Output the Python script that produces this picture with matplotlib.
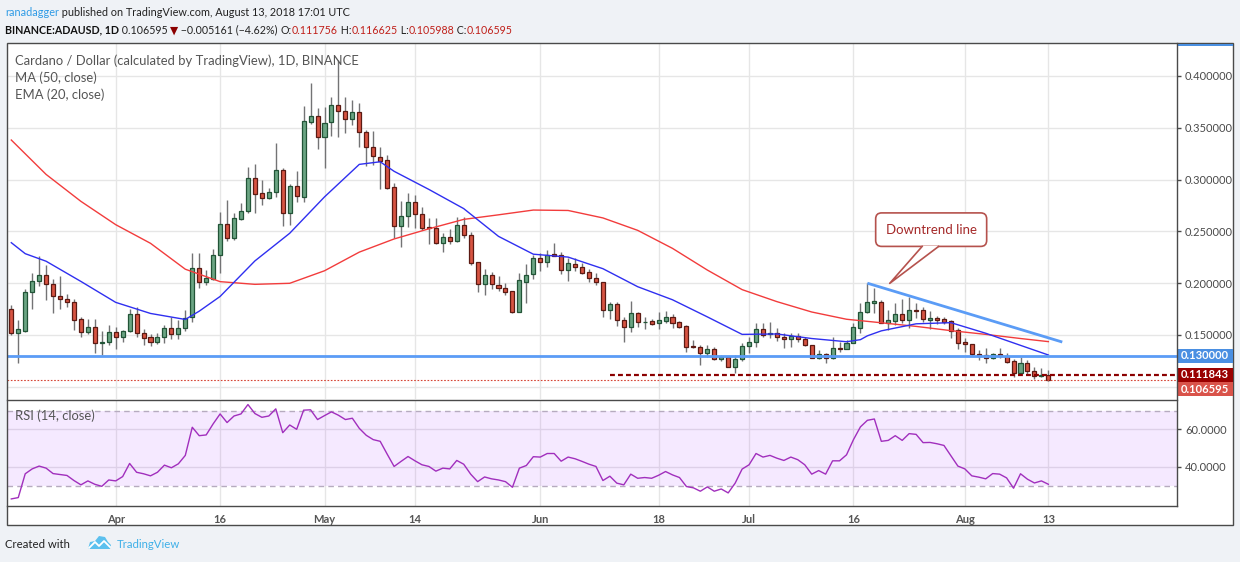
import numpy as np
import pandas as pd
import matplotlib
matplotlib.use("Agg")
import matplotlib.pyplot as plt
from matplotlib.patches import FancyBboxPatch, Polygon, Rectangle

W, H = 1240, 562

# ---------------- data ----------------
start_date = "2018-03-17"

opens = [0.1748, 0.1516, 0.1542, 0.1912, 0.2018, 0.2076, 0.1989, 0.1873, 0.1844, 0.1815,
         0.1651, 0.1526, 0.1574, 0.1426, 0.1428, 0.1526, 0.1477, 0.1539, 0.1699, 0.1522,
         0.1477, 0.1432, 0.1477, 0.1564, 0.1510, 0.1564, 0.1670, 0.2150, 0.2015, 0.2044,
         0.2269, 0.2571, 0.2433, 0.2617, 0.2700, 0.3015, 0.2867, 0.2819, 0.2877, 0.3093,
         0.2681, 0.2938, 0.2835, 0.3560, 0.3614, 0.3408, 0.3553, 0.3717, 0.3665, 0.3582,
         0.3649, 0.3456, 0.3311, 0.3215, 0.3186, 0.2925, 0.2555, 0.2652, 0.2780, 0.2664,
         0.2542, 0.2529, 0.2391, 0.2442, 0.2410, 0.2558, 0.2465, 0.2201, 0.1989, 0.2079,
         0.1982, 0.1950, 0.1925, 0.1725, 0.2014, 0.2085, 0.2240, 0.2208, 0.2278, 0.2269,
         0.2127, 0.2185, 0.2153, 0.2108, 0.2047, 0.2015, 0.1738, 0.1799, 0.1641, 0.1580,
         0.1709, 0.1625, 0.1632, 0.1613, 0.1638, 0.1670, 0.1622, 0.1584, 0.1394, 0.1381,
         0.1323, 0.1365, 0.1265, 0.1285, 0.1191, 0.1265, 0.1391, 0.1429, 0.1555, 0.1510,
         0.1516, 0.1481, 0.1458, 0.1490, 0.1458, 0.1400, 0.1281, 0.1320, 0.1281, 0.1378,
         0.1368, 0.1426, 0.1568, 0.1719, 0.1812, 0.1822, 0.1619, 0.1638, 0.1703, 0.1648,
         0.1741, 0.1741, 0.1648, 0.1661, 0.1651, 0.1632, 0.1545, 0.1433, 0.1413, 0.1313,
         0.1304, 0.1275, 0.1313, 0.1301, 0.1249, 0.1137, 0.1227, 0.1156, 0.1105, 0.111756]
highs = [0.1790, 0.1645, 0.1940, 0.2100, 0.2260, 0.2180, 0.2040, 0.2070, 0.1900, 0.1850,
         0.1670, 0.1654, 0.1654, 0.1540, 0.1600, 0.1580, 0.1550, 0.1748, 0.1770, 0.1560,
         0.1510, 0.1520, 0.1600, 0.1670, 0.1645, 0.1740, 0.2290, 0.2295, 0.2130, 0.2330,
         0.2684, 0.2803, 0.2674, 0.2770, 0.3120, 0.3150, 0.2996, 0.2922, 0.3350, 0.3109,
         0.2954, 0.3083, 0.3714, 0.3936, 0.3688, 0.3698, 0.3800, 0.4155, 0.3800, 0.3770,
         0.3736, 0.3479, 0.3470, 0.3318, 0.3237, 0.2964, 0.2793, 0.2867, 0.2851, 0.2738,
         0.2626, 0.2626, 0.2481, 0.2520, 0.2642, 0.2642, 0.2491, 0.2201, 0.2137, 0.2105,
         0.2069, 0.1998, 0.1925, 0.2095, 0.2185, 0.2272, 0.2288, 0.2320, 0.2385, 0.2304,
         0.2240, 0.2240, 0.2198, 0.2134, 0.2102, 0.2015, 0.1822, 0.1822, 0.1670, 0.1831,
         0.1725, 0.1677, 0.1651, 0.1725, 0.1735, 0.1703, 0.1638, 0.1596, 0.1452, 0.1404,
         0.1404, 0.1381, 0.1307, 0.1297, 0.1307, 0.1420, 0.1478, 0.1619, 0.1619, 0.1629,
         0.1564, 0.1516, 0.1516, 0.1516, 0.1478, 0.1404, 0.1355, 0.1329, 0.1478, 0.1436,
         0.1452, 0.1613, 0.1806, 0.2005, 0.1951, 0.1838, 0.1741, 0.1806, 0.1844, 0.1870,
         0.1806, 0.1774, 0.1732, 0.1684, 0.1671, 0.1645, 0.1565, 0.1468, 0.1413, 0.1355,
         0.1371, 0.1323, 0.1371, 0.1323, 0.1265, 0.1285, 0.1259, 0.1194, 0.1178, 0.116625]
lows = [0.1500, 0.1226, 0.1530, 0.1750, 0.1970, 0.1840, 0.1710, 0.1750, 0.1770, 0.1550,
        0.1480, 0.1510, 0.1330, 0.1307, 0.1400, 0.1360, 0.1436, 0.1530, 0.1480, 0.1400,
        0.1394, 0.1410, 0.1420, 0.1460, 0.1460, 0.1540, 0.1625, 0.1950, 0.1980, 0.2030,
        0.2095, 0.2410, 0.2417, 0.2610, 0.2674, 0.2674, 0.2755, 0.2810, 0.2835, 0.2555,
        0.2560, 0.2787, 0.2780, 0.3540, 0.3292, 0.3115, 0.3420, 0.3414, 0.3450, 0.3527,
        0.3318, 0.3135, 0.3140, 0.2906, 0.2906, 0.2433, 0.2352, 0.2539, 0.2529, 0.2513,
        0.2375, 0.2375, 0.2304, 0.2375, 0.2394, 0.2433, 0.2175, 0.1912, 0.1886, 0.1941,
        0.1928, 0.1886, 0.1709, 0.1719, 0.1812, 0.2040, 0.2121, 0.2153, 0.2262, 0.2089,
        0.2024, 0.2121, 0.2086, 0.2015, 0.1983, 0.1677, 0.1651, 0.1587, 0.1436, 0.1532,
        0.1574, 0.1555, 0.1597, 0.1555, 0.1619, 0.1571, 0.1564, 0.1339, 0.1371, 0.1210,
        0.1285, 0.1259, 0.1252, 0.1191, 0.1136, 0.1252, 0.1323, 0.1381, 0.1478, 0.1468,
        0.1445, 0.1371, 0.1381, 0.1436, 0.1394, 0.1275, 0.1265, 0.1233, 0.1265, 0.1339,
        0.1362, 0.1420, 0.1516, 0.1709, 0.1716, 0.1613, 0.1548, 0.1597, 0.1613, 0.1565,
        0.1661, 0.1629, 0.1558, 0.1606, 0.1606, 0.1474, 0.1362, 0.1339, 0.1297, 0.1259,
        0.1227, 0.1265, 0.1275, 0.1227, 0.1091, 0.1130, 0.1124, 0.1072, 0.1091, 0.105988]
closes = [0.1516, 0.1555, 0.1915, 0.2018, 0.2076, 0.1989, 0.1873, 0.1844, 0.1815, 0.1645,
          0.1526, 0.1574, 0.1426, 0.1428, 0.1526, 0.1477, 0.1539, 0.1699, 0.1522, 0.1468,
          0.1429, 0.1477, 0.1564, 0.1510, 0.1564, 0.1667, 0.2150, 0.2015, 0.2047, 0.2269,
          0.2571, 0.2433, 0.2633, 0.2694, 0.3015, 0.2861, 0.2819, 0.2877, 0.3093, 0.2681,
          0.2938, 0.2845, 0.3566, 0.3614, 0.3408, 0.3543, 0.3717, 0.3665, 0.3582, 0.3649,
          0.3456, 0.3311, 0.3225, 0.3182, 0.2915, 0.2555, 0.2645, 0.2780, 0.2664, 0.2536,
          0.2529, 0.2391, 0.2442, 0.2410, 0.2558, 0.2462, 0.2198, 0.1989, 0.2079, 0.1989,
          0.1950, 0.1918, 0.1725, 0.2027, 0.2079, 0.2240, 0.2208, 0.2272, 0.2266, 0.2127,
          0.2192, 0.2153, 0.2102, 0.2047, 0.2015, 0.1738, 0.1799, 0.1641, 0.1580, 0.1709,
          0.1622, 0.1627, 0.1603, 0.1645, 0.1677, 0.1619, 0.1580, 0.1387, 0.1381, 0.1323,
          0.1365, 0.1265, 0.1288, 0.1191, 0.1265, 0.1391, 0.1429, 0.1555, 0.1497, 0.1519,
          0.1478, 0.1458, 0.1490, 0.1458, 0.1400, 0.1281, 0.1320, 0.1281, 0.1378, 0.1368,
          0.1426, 0.1574, 0.1719, 0.1815, 0.1825, 0.1619, 0.1642, 0.1703, 0.1648, 0.1741,
          0.1735, 0.1651, 0.1661, 0.1648, 0.1629, 0.1542, 0.1420, 0.1410, 0.1313, 0.1301,
          0.1275, 0.1313, 0.1301, 0.1243, 0.1137, 0.1227, 0.1156, 0.1105, 0.111756, 0.106595]

# moving averages sampled at candle numbers (1 = first candle)
ma50_idx = [1, 6, 11, 16, 21, 26, 31, 36, 41, 46, 51, 56, 61, 66, 71, 76, 81, 86,
            91, 96, 101, 106, 111, 116, 121, 126, 131, 136, 141, 146, 150]
ma50_vals = [0.3382, 0.3050, 0.2790, 0.2565, 0.2385, 0.2135, 0.2015, 0.1989, 0.1999,
             0.2120, 0.2300, 0.2427, 0.2525, 0.2616, 0.2660, 0.2706, 0.2702, 0.2630,
             0.2510, 0.2336, 0.2127, 0.1938, 0.1822, 0.1722, 0.1652, 0.1618, 0.1583,
             0.1542, 0.1506, 0.1466, 0.1436]
ema20_idx = [1, 3, 6, 11, 16, 21, 26, 28, 31, 36, 41, 46, 51, 54, 56, 61, 66, 71, 76,
             81, 86, 91, 96, 101, 106, 111, 116, 121, 123, 124, 126, 131, 136, 141,
             146, 150]
ema20_vals = [0.2391, 0.2285, 0.2212, 0.2017, 0.1815, 0.1708, 0.1650, 0.1730, 0.1872,
              0.2215, 0.2482, 0.2833, 0.3147, 0.3172, 0.3080, 0.2905, 0.2720, 0.2452,
              0.2280, 0.2252, 0.2140, 0.1966, 0.1840, 0.1675, 0.1506, 0.1510, 0.1466,
              0.1435, 0.1455, 0.1492, 0.1540, 0.1608, 0.1619, 0.1517, 0.1400, 0.1307]

rsi_vals = [22.9, 23.6, 36.3, 38.9, 40.4, 39.3, 36.4, 35.9, 35.4, 32.7,
            30.4, 32.5, 30.7, 29.6, 33.0, 32.5, 34.8, 41.8, 37.1, 36.3,
            35.2, 37.1, 40.9, 39.5, 41.6, 46.1, 61.1, 56.6, 57.0, 62.9,
            68.2, 63.6, 67.1, 68.2, 73.2, 68.4, 66.4, 67.1, 70.9, 58.2,
            62.3, 60.0, 70.2, 70.4, 65.2, 67.3, 69.3, 67.5, 65.2, 65.9,
            60.5, 56.8, 54.5, 53.6, 46.8, 40.2, 42.9, 45.5, 43.2, 41.1,
            40.2, 37.7, 39.3, 38.9, 43.4, 41.4, 36.1, 32.1, 34.6, 33.6,
            33.0, 32.1, 29.1, 39.3, 40.7, 45.4, 45.2, 47.1, 47.1, 43.0,
            45.2, 44.3, 42.9, 41.4, 40.2, 32.7, 35.0, 31.3, 30.4, 36.1,
            33.9, 34.3, 33.9, 35.5, 37.5, 35.7, 34.3, 29.5, 28.8, 27.0,
            29.3, 27.0, 28.2, 26.1, 31.3, 38.8, 41.1, 47.1, 45.2, 46.1,
            44.6, 43.4, 45.2, 43.8, 41.1, 36.1, 38.0, 36.1, 43.2, 43.2,
            46.4, 54.5, 61.3, 64.8, 65.5, 53.6, 54.1, 56.6, 54.1, 57.7,
            57.3, 52.9, 53.0, 52.3, 51.4, 45.9, 40.4, 38.9, 35.2, 34.5,
            33.6, 36.4, 36.1, 34.1, 28.6, 36.3, 33.4, 31.4, 32.5, 30.7]

support_level = 0.130000
dashed_level = 0.111843
dashed_from = 87            # candle where the dashed level starts
trend_x = [124, 152]
trend_y = [0.2000, 0.1432]
callout_tip = (127.2, 0.1998)
callout_text = "Downtrend line"

price_ticks = [0.10, 0.15, 0.20, 0.25, 0.30, 0.35, 0.40]
rsi_ticks = [40, 60]
tick_dates = ["2018-04-01", "2018-04-16", "2018-05-01", "2018-05-14", "2018-06-01",
              "2018-06-18", "2018-07-01", "2018-07-16", "2018-08-01", "2018-08-13"]
tick_labels = ["Apr", "16", "May", "14", "Jun", "18", "Jul", "16", "Aug", "13"]

# ---------------- style ----------------
BG = "#eff2f6"
GRID = "#e6e6e6"
FRAME = "#4a4a4a"
UP_FILL, UP_EDGE = "#6ba583", "#225437"
DN_FILL, DN_EDGE = "#d75442", "#5b1a13"
WICK = "#737375"
LINE_BLUE = "#5b9cf6"
FONT = ["Lato", "DejaVu Sans"]
plt.rcParams["font.family"] = FONT


def fx(x):
    return x / W


def fy(y):
    return 1 - y / H


fig = plt.figure(figsize=(W / 100, H / 100), dpi=100, facecolor=BG)

# background overlay (pixel coords, y down)
bg = fig.add_axes([0, 0, 1, 1], zorder=0)
bg.set_xlim(0, W)
bg.set_ylim(H, 0)
bg.axis("off")
bg.add_patch(Rectangle((7, 43.3), 1233.3 - 7, 525 - 43.3, facecolor="white", edgecolor="none"))

L, R = 7, 1176.7
ax = fig.add_axes([fx(L), fy(399), fx(R - L), (399 - 43.3) / H], zorder=2)
rx = fig.add_axes([fx(L), fy(506), fx(R - L), (506 - 399.5) / H], zorder=2, sharex=ax)

n = np.arange(1, len(closes) + 1)
d0 = pd.Timestamp(start_date)
tick_pos = [(pd.Timestamp(d) - d0).days + 1 for d in tick_dates]

for a in (ax, rx):
    a.set_facecolor("none")
    for s in a.spines.values():
        s.set_visible(False)
    for t in tick_pos:
        a.axvline(t, color=GRID, lw=1, zorder=0)

ax.set_xlim(0.382, 168.44)
ax.set_ylim(0.08822, 0.43156)
for p in price_ticks:
    ax.axhline(p, color=GRID, lw=1, zorder=0)

# candles
bw = 0.58
for xi, o, h, l, c in zip(n, opens, highs, lows, closes):
    up = c >= o
    ax.vlines(xi, l, h, color=WICK, lw=1, zorder=3)
    ax.add_patch(Rectangle((xi - bw / 2, min(o, c)), bw, max(abs(c - o), 1e-5),
                           facecolor=UP_FILL if up else DN_FILL,
                           edgecolor=UP_EDGE if up else DN_EDGE, lw=0.9, zorder=4))

ax.plot(ma50_idx, ma50_vals, color="#f23c3c", lw=1, zorder=5)
ax.plot(ema20_idx, ema20_vals, color="#2f2ff0", lw=1, zorder=5)

# horizontal levels and trend line
ax.axhline(support_level, color=LINE_BLUE, lw=2, zorder=6)
ax.plot([dashed_from, 168.44], [dashed_level] * 2, color="#8b0000", lw=1.6,
        ls=(0, (2.2, 1.4)), zorder=6)
ax.axhline(closes[-1], color="#d64535", lw=0.8, ls=(0, (1.5, 1.5)), zorder=6)
ax.plot(trend_x, trend_y, color=LINE_BLUE, lw=2, zorder=6, solid_capstyle="butt")

# right price scale
ax.yaxis.tick_right()
ax.set_yticks(price_ticks)
ax.set_yticklabels(["" if p < 0.11 else f"{p:.6f}" for p in price_ticks])
ax.tick_params(axis="y", length=3, width=1, color=FRAME, labelsize=8,
               labelcolor="#4a4a4a", pad=3)
ax.tick_params(axis="x", bottom=False, labelbottom=False)

# RSI panel
rx.set_ylim(19.12, 75.89)
rx.axhspan(30, 70, color="#9915ff", alpha=0.09, lw=0, zorder=1)
for v in rsi_ticks:
    rx.axhline(v, color="#ddd0e8", lw=1, zorder=1)
for v in (30, 70):
    rx.axhline(v, color="#b6abbf", lw=1, ls=(0, (4, 3)), zorder=1)
rx.plot(n, rsi_vals, color="#a12fbd", lw=1, zorder=4)
rx.yaxis.tick_right()
rx.set_yticks(rsi_ticks)
rx.set_yticklabels([f"{v:.4f}" for v in rsi_ticks])
rx.tick_params(axis="y", length=3, width=1, color=FRAME, labelsize=8,
               labelcolor="#4a4a4a", pad=3)
rx.set_xticks(tick_pos)
rx.set_xticklabels(tick_labels)
rx.tick_params(axis="x", length=0, labelsize=8, labelcolor="#555555", pad=6)
for lbl in rx.get_xticklabels():
    lbl.set_fontweight("bold")

# top overlay for frame, labels, callout and header
ov = fig.add_axes([0, 0, 1, 1], zorder=10)
ov.set_xlim(0, W)
ov.set_ylim(H, 0)
ov.axis("off")
ov.patch.set_alpha(0)


def to_ov(a, x, y):
    return ov.transData.inverted().transform(a.transData.transform((x, y)))


ov.add_patch(Rectangle((7, 43.3), 1233.3 - 7, 525 - 43.3, fill=False, edgecolor=FRAME, lw=1))
ov.plot([R, R], [43.3, 506], color=FRAME, lw=1)
ov.plot([L, R], [399.5, 399.5], color=FRAME, lw=1)
ov.plot([L, R], [506, 506], color=FRAME, lw=1)
ov.add_patch(Rectangle((R, 43.8), 1233.3 - R, 2.6, facecolor="#4a90e2", edgecolor="none"))

# price boxes on the scale
prev_bottom = -1e9
for lvl, col, txt in [(support_level, "#4a8fe2", f"{support_level:.6f}"),
                      (dashed_level, "#990000", f"{dashed_level:.6f}"),
                      (closes[-1], "#d9534a", f"{closes[-1]:.6f}")]:
    yc = to_ov(ax, 1, lvl)[1]
    yc = max(yc, prev_bottom + 7.5)
    ov.add_patch(Rectangle((R, yc - 7), 1233.3 - R, 14, facecolor=col, edgecolor="none"))
    ov.text(1204.5, yc, txt, color="white", fontsize=8, fontweight="bold",
            ha="center", va="center")
    prev_bottom = yc + 7

# callout
tx, ty = to_ov(ax, *callout_tip)
box = FancyBboxPatch((tx - 14, ty - 70.5), 111, 33.5,
                     boxstyle="round,pad=0,rounding_size=6",
                     facecolor="white", edgecolor="#b5524d", lw=1.2, zorder=20)
ov.add_patch(box)
ov.add_patch(Polygon([[tx + 32.5, ty - 37.5], [tx + 49, ty - 37.5], [tx, ty]], closed=True,
                     facecolor="white", edgecolor="none", zorder=21))
ov.plot([tx + 32.5, tx, tx + 49], [ty - 37, ty, ty - 37], color="#b5524d", lw=1.2, zorder=22)
ov.text(tx + 41.5, ty - 53.5, callout_text, color="#a52a2a", fontsize=9.5,
        ha="center", va="center", zorder=23)

# panel captions
ov.text(15, 61, "Cardano / Dollar (calculated by TradingView), 1D, BINANCE", color="#555555",
        fontsize=9.4, va="center")
ov.text(15, 78, "MA (50, close)", color="#555555", fontsize=9.4, va="center")
ov.text(15, 95, "EMA (20, close)", color="#555555", fontsize=9.4, va="center")
ov.text(15, 416, "RSI (14, close)", color="#555555", fontsize=9.4, va="center")

renderer = fig.canvas.get_renderer()


def put_seq(x, y, pieces, size):
    for txt, col, wt in pieces:
        t = ov.text(x, y, txt, color=col, fontsize=size, fontweight=wt, va="center")
        bb = t.get_window_extent(renderer)
        x += bb.width


put_seq(5, 12, [("ranadagger", "#2f9be6", "normal"),
                (" published on TradingView.com, August 13, 2018 17:01 UTC", "#222222", "normal")], 7.8)
red = "#c0201a"
put_seq(5, 30, [("BINANCE:ADAUSD, 1D", "#111111", "bold"),
                (" 0.106595 ", "#222222", "normal"),
                ("\u25bc", "#8b0000", "normal"),
                (" \u22120.005161 (\u22124.62%) ", "#222222", "normal"),
                ("O:", "#222222", "normal"), ("0.111756", red, "normal"),
                (" H:", "#222222", "normal"), ("0.116625", red, "normal"),
                (" L:", "#222222", "normal"), ("0.105988", red, "normal"),
                (" C:", "#222222", "normal"), ("0.106595", red, "normal")], 7.7)

# footer with a simple cloud mark
ov.text(5, 544, "Created with", color="#222222", fontsize=8.2, va="center")
cloud = Polygon([[88, 549], [90, 542], [95, 541], [99, 536], [105, 537], [108, 542],
                 [111, 545], [110, 549]], closed=True, facecolor="#5cc0ee", edgecolor="none")
ov.add_patch(cloud)
ov.plot([89, 95, 99, 104, 110], [548, 542, 546, 541, 547], color="white", lw=1.3)
ov.text(117, 544, "TradingView", color="#3fb0e8", fontsize=8.2, va="center")

fig.savefig("out.png", dpi=100, facecolor=BG)
